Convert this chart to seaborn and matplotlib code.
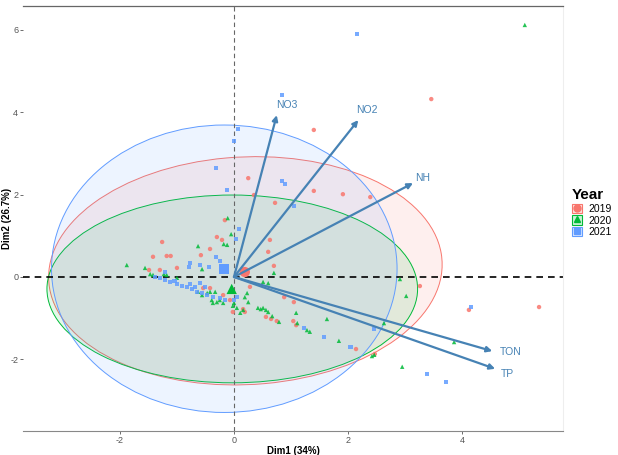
import numpy as np
import pandas as pd
import matplotlib
matplotlib.use("Agg")
import matplotlib.pyplot as plt
import seaborn as sns
from matplotlib.patches import Ellipse, Patch
from matplotlib.lines import Line2D
from matplotlib.colors import to_rgba

# individuals (PCA scores) per year
dim1_2019 = [3.46, 1.40, 1.40, 1.91, 2.39, 0.25, 0.35, 0.72, -0.16, -0.30, -0.21, -1.26, -0.42,
             -1.18, -1.11, -1.42, -0.58, -1.00, -1.49, -1.30, 0.63, 0.60, 0.70, 0.28, -0.54,
             -0.42, -0.19, -0.07, 0.16, 0.19, -0.02, 0.88, 1.05, 0.56, 0.65, 0.75, 1.04, 1.09,
             2.14, 2.47, 3.26, 4.12, 5.35]
dim2_2019 = [4.32, 3.57, 2.09, 2.01, 1.94, 2.40, 1.99, 1.80, 1.38, 0.97, 0.90, 0.85, 0.68,
             0.51, 0.51, 0.49, 0.53, 0.22, 0.17, 0.17, 0.90, 0.61, 0.27, -0.24, -0.27,
             -0.27, -0.44, -0.56, -0.78, -0.85, -0.85, -0.49, -0.61, -0.97, -1.02, -1.07, -1.07, -1.17,
             -1.75, -1.87, -0.22, -0.80, -0.73]

dim1_2020 = [5.10, -0.11, -0.05, -0.18, -0.12, -0.63, -0.56, -1.88, -1.56, -1.47, -1.42, -1.23,
             -1.18, -1.00, -0.63, -0.56, -0.47, -0.42, -0.33, -0.39, -0.30, -0.25, -0.19, -0.37,
             0.00, 0.05, 0.11, 0.16, -0.02, 0.70, 0.51, 0.60, 0.23, 0.19, 0.25, 0.42, 0.47, 0.51,
             0.56, 0.60, 1.09, 0.67, 0.79, 1.11, 1.28, 1.33, 1.63, 1.84, 2.42, 2.46, 2.63, 2.91,
             3.02, 3.86, 2.95]
dim2_2020 = [6.12, 1.43, 1.04, 0.80, 0.78, 0.75, 0.19, 0.29, 0.22, 0.07, 0.05, 0.07,
             0.05, -0.02, -0.36, -0.44, -0.39, -0.36, -0.36, -0.56, -0.61, -0.56, -0.63, -0.63,
             -0.63, -0.75, -0.87, -0.80, -0.70, 0.10, -0.12, -0.15, -0.39, -0.49, -0.61, -0.75, -0.78, -0.75,
             -0.80, -0.85, -0.87, -0.95, -1.09, -1.12, -1.29, -1.33, -1.02, -1.55, -1.92, -1.89, -1.12, -0.05,
             -0.46, -1.58, -2.18]

dim1_2021 = [2.16, 0.84, 0.07, 0.00, -0.32, 0.84, 0.89, -0.12, 1.05, 0.09, 0.04, -0.32, -0.25,
             -0.77, -0.79, -0.60, -0.44, -1.21, -0.16, -1.30, -1.21, -1.12, -1.00, -0.91, -0.82,
             -0.74, -0.65, -0.56, -0.47, -0.37, -0.25, -0.16, -0.51, -0.68, -0.77, -0.60, -1.39,
             -1.04, 0.00, 0.05, 1.23, 1.58, 2.04, 2.46, 4.16, 3.39, 3.72]
dim2_2021 = [5.90, 4.42, 3.59, 3.30, 2.65, 2.33, 2.26, 2.11, 1.72, 1.17, 0.92, 0.49, 0.39,
             0.34, 0.24, 0.29, 0.24, 0.12, 0.24, -0.02, -0.07, -0.12, -0.17, -0.22, -0.24,
             -0.29, -0.36, -0.39, -0.44, -0.49, -0.51, -0.56, -0.24, -0.24, -0.17, -0.15, 0.00,
             -0.10, -0.56, -0.49, -1.24, -1.46, -1.70, -1.26, -0.73, -2.35, -2.55]

years = ["2019", "2020", "2021"]
year_colors = ["#F8766D", "#00BA38", "#619CFF"]
year_markers = ["o", "^", "s"]

# group means
mean_dim1 = [0.19, -0.04, -0.18]
mean_dim2 = [0.12, -0.29, 0.19]

# 95% ellipses: centre, half-widths, angle
ell_cx = [0.20, -0.03, -0.17]
ell_cy = [0.15, -0.29, 0.20]
ell_a = [3.46, 3.25, 3.03]
ell_b = [2.76, 2.28, 3.49]
ell_angle = [7, 0, 0]

# variables (loadings arrows)
var_names = ["NO3", "NO2", "NH", "TON", "TP"]
var_x = [0.75, 2.18, 3.14, 4.53, 4.58]
var_y = [3.93, 3.81, 2.28, -1.80, -2.23]
lab_x = [0.93, 2.33, 3.30, 4.86, 4.80]
lab_y = [4.17, 4.05, 2.40, -1.83, -2.36]

df = pd.DataFrame({
    "Dim1": dim1_2019 + dim1_2020 + dim1_2021,
    "Dim2": dim2_2019 + dim2_2020 + dim2_2021,
    "Year": ["2019"] * len(dim1_2019) + ["2020"] * len(dim1_2020) + ["2021"] * len(dim1_2021),
})
means = pd.DataFrame({"Dim1": mean_dim1, "Dim2": mean_dim2, "Year": years})

plt.rcParams["font.family"] = ["Liberation Sans", "DejaVu Sans"]
plt.rcParams["axes.unicode_minus"] = False

fig = plt.figure(figsize=(6.18, 4.55), dpi=100)
ax = fig.add_axes([23 / 618, 24 / 455, 540 / 618, 425 / 455])

for i, c in enumerate(year_colors):
    e = Ellipse((ell_cx[i], ell_cy[i]), 2 * ell_a[i], 2 * ell_b[i], angle=ell_angle[i],
                facecolor=to_rgba(c, 0.11), edgecolor=c, lw=0.7, zorder=1)
    ax.add_patch(e)

ax.axhline(0, color="black", ls=(0, (4, 3)), lw=1.2, zorder=2)
ax.axvline(0, color="#666666", ls=(0, (4, 3)), lw=0.8, zorder=2)

pal = dict(zip(years, year_colors))
mk = dict(zip(years, year_markers))
sns.scatterplot(data=df, x="Dim1", y="Dim2", hue="Year", style="Year", hue_order=years,
                palette=pal, markers=mk, s=10, linewidth=0, alpha=0.85, legend=False,
                ax=ax, zorder=3)
sns.scatterplot(data=means, x="Dim1", y="Dim2", hue="Year", style="Year", hue_order=years,
                palette=pal, markers=mk, s=55, linewidth=0, legend=False, ax=ax, zorder=3)

for i, name in enumerate(var_names):
    ax.annotate("", xy=(var_x[i], var_y[i]), xytext=(0, 0),
                arrowprops=dict(arrowstyle="-|>", color="steelblue", lw=1.6,
                                mutation_scale=8, shrinkA=0, shrinkB=0), zorder=4)
    ax.text(lab_x[i], lab_y[i], name, color="steelblue", fontsize=7.5,
            ha="center", va="center", zorder=4)

ax.set_xlim(-3.70, 5.77)
ax.set_ylim(-3.74, 6.58)
ax.set_xticks([-2, 0, 2, 4])
ax.set_yticks([-2, 0, 2, 4, 6])
ax.tick_params(labelsize=6.5, colors="#555555", length=2, width=0.6, pad=1.5)
ax.set_xlabel("Dim1 (34%)", fontsize=7, fontweight="bold")
ax.set_ylabel("Dim2 (26.7%)", fontsize=7, fontweight="bold")
ax.xaxis.set_label_coords(0.5, -0.036)
ax.yaxis.set_label_coords(-0.021, 0.5)
ax.set_facecolor("white")

ax.spines["left"].set_visible(False)
ax.spines["top"].set_color("#666666")
ax.spines["top"].set_linewidth(0.9)
ax.spines["bottom"].set_color("#888888")
ax.spines["bottom"].set_linewidth(0.8)
ax.spines["right"].set_color("#eeeeee")
ax.spines["right"].set_linewidth(0.8)

handles = []
for c, m in zip(year_colors, year_markers):
    box = Patch(facecolor=to_rgba(c, 0.2), edgecolor=c, lw=0.8)
    dot = Line2D([], [], marker=m, color=c, ls="", markersize=5)
    handles.append((box, dot))
leg = fig.legend(handles, years, loc="upper left", bbox_to_anchor=(572 / 618, 1 - 188 / 455),
                 title="Year", frameon=False, fontsize=7.5, handlelength=1.0, handleheight=1.0,
                 labelspacing=0.15, handletextpad=0.6, borderaxespad=0, borderpad=0)
leg.get_title().set_fontweight("bold")
leg.get_title().set_fontsize(11)
leg._legend_box.align = "left"

fig.savefig("out.png", dpi=100)
